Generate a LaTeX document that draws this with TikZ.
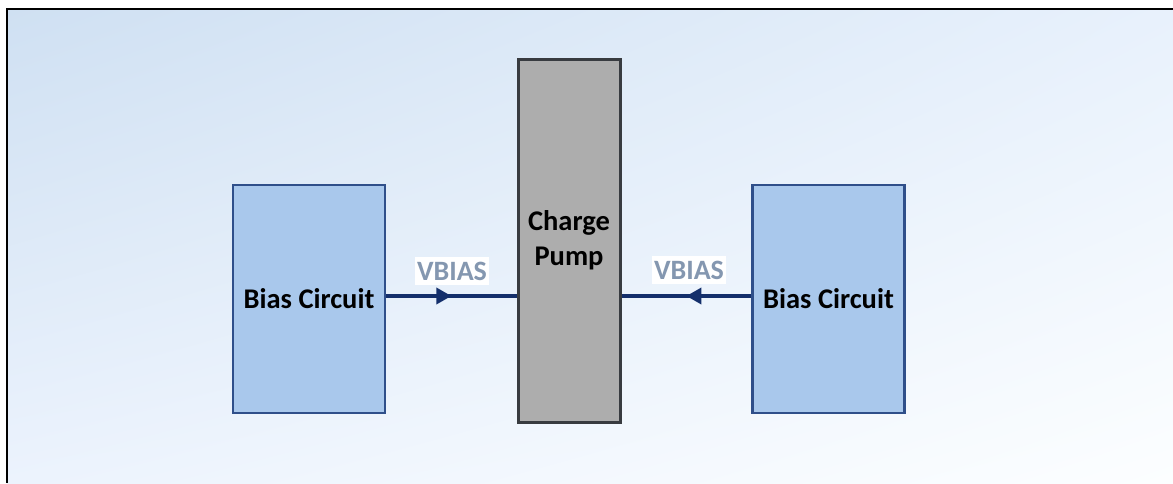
\documentclass[tikz,border=0pt]{standalone}
\usepackage{fontspec}
\setmainfont{Carlito}
\usetikzlibrary{arrows.meta,decorations.markings,shadings}
\definecolor{biasfill}{HTML}{A9C8EC}
\definecolor{biasline}{HTML}{2F4F8A}
\definecolor{pumpfill}{HTML}{ADADAD}
\definecolor{pumpline}{HTML}{383B40}
\definecolor{wirecol}{HTML}{142F6B}
\definecolor{labelcol}{HTML}{8497B0}
\definecolor{bgUL}{HTML}{CFE0F2}
\definecolor{bgUR}{HTML}{E8F1FC}
\definecolor{bgLL}{HTML}{ECF3FD}
\definecolor{bgLR}{HTML}{FCFEFF}
\tikzset{
  biasbox/.style={draw=biasline, line width=2.6pt, fill=biasfill, minimum width=152pt,
    minimum height=228pt, inner sep=0pt, font=\fontsize{28.5}{33}\selectfont\bfseries},
  pumpbox/.style={draw=pumpline, line width=3pt, fill=pumpfill, minimum width=102pt,
    minimum height=363pt, inner sep=0pt, align=center,
    font=\fontsize{28.5}{35}\selectfont\bfseries},
  wire/.style={draw=wirecol, line width=3.4pt,
    postaction={decorate},
    decoration={markings, mark=at position 0.5 with {\arrow[wirecol]{Triangle[length=15pt,width=16pt]}}}},
  siglabel/.style={fill=white, text=labelcol, inner xsep=2pt, inner ysep=5pt,
    font=\fontsize{28}{32}\selectfont\bfseries}
}
\begin{document}
\begin{tikzpicture}[x=1pt,y=-1pt]
  \useasboundingbox (0,0) rectangle (1173,483);
  % page background with soft blue gradient
  \shade[upper left=bgUL, upper right=bgUR, lower left=bgLL, lower right=bgLR]
    (7,9) rectangle (1173,483);
  \draw[black, line width=2.8pt] (7,483) -- (7,9) -- (1173,9);

  % blocks
  \node[biasbox] (biasL) at (309,299) {Bias Circuit};
  \node[pumpbox] (pump) at (569,240.5) {Charge\\Pump};
  \node[biasbox] (biasR) at (828.5,299) {Bias Circuit};

  % bias connections into the pump
  \coordinate (pL) at (pump.west |- 0,296);
  \coordinate (pR) at (pump.east |- 0,296);
  \coordinate (bL) at (biasL.east |- 0,296);
  \coordinate (bR) at (biasR.west |- 0,296);
  \draw[wire] (bL) -- (pL);
  \draw[wire] (bR) -- (pR);

  \node[siglabel] (vL) at (452,271) {VBIAS};
  \node[siglabel] (vR) at (689,270) {VBIAS};
\end{tikzpicture}
\end{document}
